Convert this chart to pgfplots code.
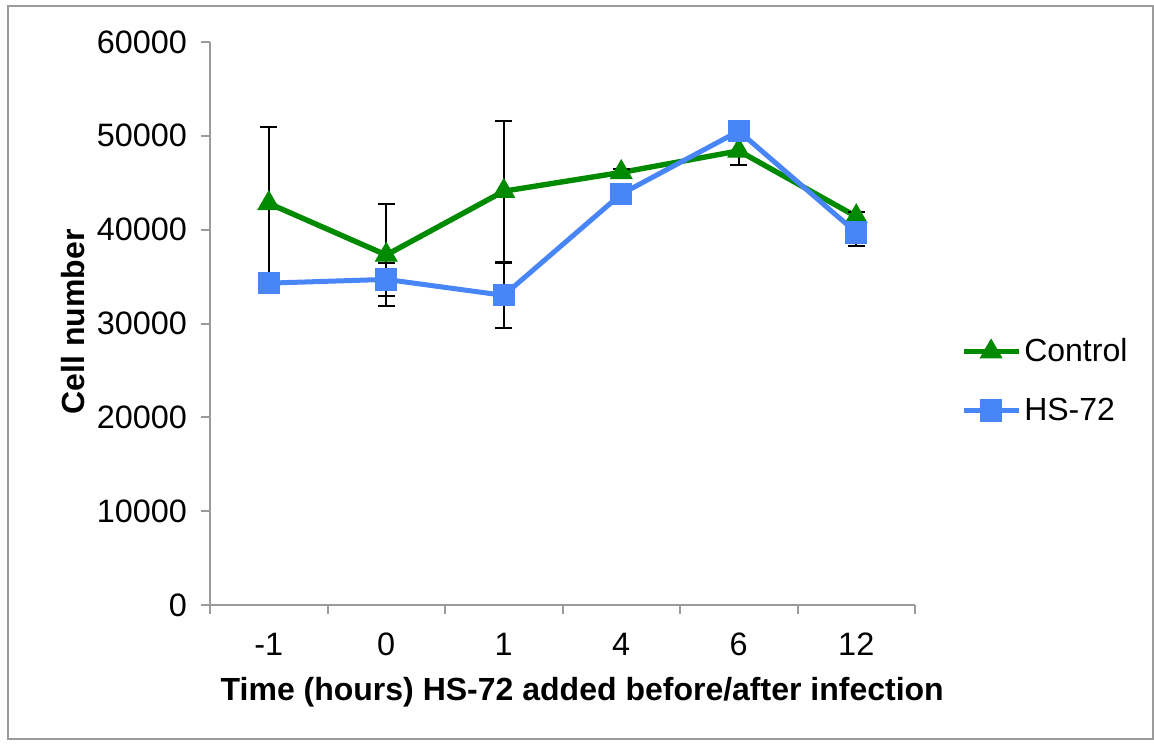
\documentclass[border=0pt]{standalone}
\usepackage{pgfplots}
\pgfplotsset{compat=1.18}
\usepackage{fontspec}
\setmainfont{Liberation Sans}
\definecolor{cgreen}{RGB}{0,138,0}
\definecolor{cblue}{RGB}{72,134,248}
\definecolor{axgray}{RGB}{155,155,155}
\begin{document}
\begin{tikzpicture}
\useasboundingbox (-105pt,-69.5pt) rectangle (472pt,302.5pt);
\draw[axgray, line width=1pt] (-101pt,-67pt) rectangle (471.5pt,299.5pt);
\begin{axis}[
  at={(0,0)}, anchor=south west,
  scale only axis, width=352.5pt, height=281.5pt,
  xmin=-0.5, xmax=5.5, ymin=0, ymax=60000,
  ytick={0,10000,...,60000},
  scaled y ticks=false,
  /pgf/number format/assume math mode=true,
  y tick label style={/pgf/number format/1000 sep={}, xshift=-3.5pt},
  x tick label style={yshift=-6pt},
  axis x line*=bottom, axis y line*=left,
  axis line style={axgray, line width=1pt, -},
  tick align=outside,
  major tick length=4.5pt, minor tick length=4.5pt,
  tick style={axgray, line width=1pt},
  xtick={0,...,5},
  xticklabels={-1,0,1,4,6,12},
  major x tick style={draw=none},
  minor xtick={-0.5,0.5,...,5.5},
  ticklabel style={font=\fontsize{16.2}{19}\selectfont},
  xlabel={\textbf{Time (hours) HS-72 added before/after infection}},
  ylabel={\textbf{Cell number}},
  label style={font=\fontsize{16}{19}\selectfont},
  xlabel style={at={(axis description cs:0.528,-0.1545)}, anchor=center},
  ylabel style={at={(axis description cs:-0.194,0.503)}, anchor=center, rotate=0},
  legend style={draw=none, fill=none, at={(axis description cs:1.056,0.398)}, anchor=west,
    font=\fontsize{16}{19}\selectfont, row sep=12.5pt, nodes={inner xsep=1.5pt}},
  legend cell align=left,
  legend image code/.code={\draw[mark repeat=2, mark phase=2] plot coordinates {(0pt,0pt)(13.75pt,0pt)(27.5pt,0pt)};},
  clip=false,
]
\addplot[cgreen, line width=2.7pt, mark=triangle*, mark size=6.2pt, mark options={solid, line width=0.5pt},
  error bars/.cd, y dir=both, y explicit,
  error bar style={black, line width=1pt},
  error mark options={black, line width=1pt, mark size=4.3pt, rotate=90}]
  coordinates {
  (0,42800) +- (0,8150)
  (1,37300) +- (0,5400)
  (2,44100) +- (0,7500)
  (3,46100) +- (0,400)
  (4,48400) +- (0,1500)
  (5,41400) +- (0,500)
};
\addlegendentry{Control}
\addplot[cblue, line width=2.5pt, mark=square*, mark size=5.3pt, mark options={solid, line width=0.5pt},
  error bars/.cd, y dir=both, y explicit,
  error bar style={black, line width=1pt},
  error mark options={black, line width=1pt, mark size=4.3pt, rotate=90}]
  coordinates {
  (0,34300) +- (0,500)
  (1,34700) +- (0,1800)
  (2,33000) +- (0,3500)
  (3,43800) +- (0,400)
  (4,50500) +- (0,400)
  (5,39700) +- (0,1400)
};
\addlegendentry{HS-72}
\end{axis}
\end{tikzpicture}
\end{document}
